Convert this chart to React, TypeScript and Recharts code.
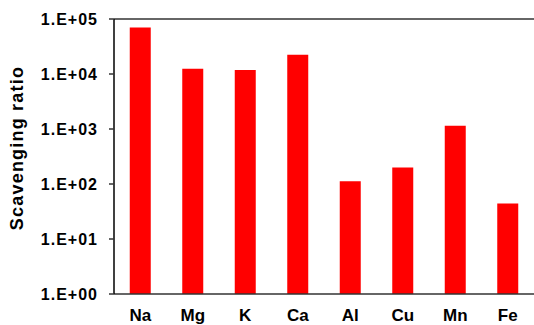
import React from 'react';
import { BarChart, Bar, XAxis, YAxis, ReferenceLine } from 'recharts';

const elements = ['Na', 'Mg', 'K', 'Ca', 'Al', 'Cu', 'Mn', 'Fe'];
const scavengingRatio = [70000, 12500, 11800, 22500, 112, 200, 1150, 44];
const yTicks = [1, 10, 100, 1000, 10000, 100000];

const data = elements.map((el, i) => ({ name: el, ratio: scavengingRatio[i] }));

const font = '"Liberation Sans", Arial, sans-serif';

const fmtSci = (v: number) => {
  const exp = Math.round(Math.log10(v));
  return `1.E+${String(exp).padStart(2, '0')}`;
};

const YTitle = (props: any) => {
  const cx = 23;
  const cy = 148;
  return (
    <text
      x={cx}
      y={cy}
      transform={`rotate(-90, ${cx}, ${cy})`}
      textAnchor="middle"
      fontFamily={font}
      fontWeight="bold"
      fontSize={18}
      letterSpacing={1.2}
      fill="#000"
    >
      Scavenging ratio
    </text>
  );
};

export default function App() {
  return (
    <div style={{ position: 'absolute', left: 0, top: 0 }}>
      <BarChart
        width={534}
        height={325}
        data={data}
        margin={{ top: 19, right: 0, left: 0, bottom: 0 }}
        barCategoryGap="30%"
      >
        <XAxis
          dataKey="name"
          height={31}
          tickLine={false}
          tickSize={0}
          tickMargin={15}
          axisLine={{ stroke: '#333', strokeWidth: 1.5 }}
          tick={{ fontFamily: font, fontWeight: 'bold', fontSize: 17, fill: '#000' }}
          interval={0}
        />
        <YAxis
          scale="log"
          domain={[1, 100000]}
          ticks={yTicks}
          allowDataOverflow
          width={114}
          tickSize={5}
          tickMargin={11}
          tickFormatter={fmtSci}
          axisLine={{ stroke: '#000', strokeWidth: 1.5 }}
          tickLine={{ stroke: '#333', strokeWidth: 1.5 }}
          tick={{ fontFamily: font, fontWeight: 'bold', fontSize: 16, fill: '#000', letterSpacing: 1 }}
          label={<YTitle />}
        />
        <ReferenceLine y={100000} stroke="#333" strokeWidth={1.5} />
        <Bar dataKey="ratio" fill="#ff0000" isAnimationActive={false} />
      </BarChart>
    </div>
  );
}
